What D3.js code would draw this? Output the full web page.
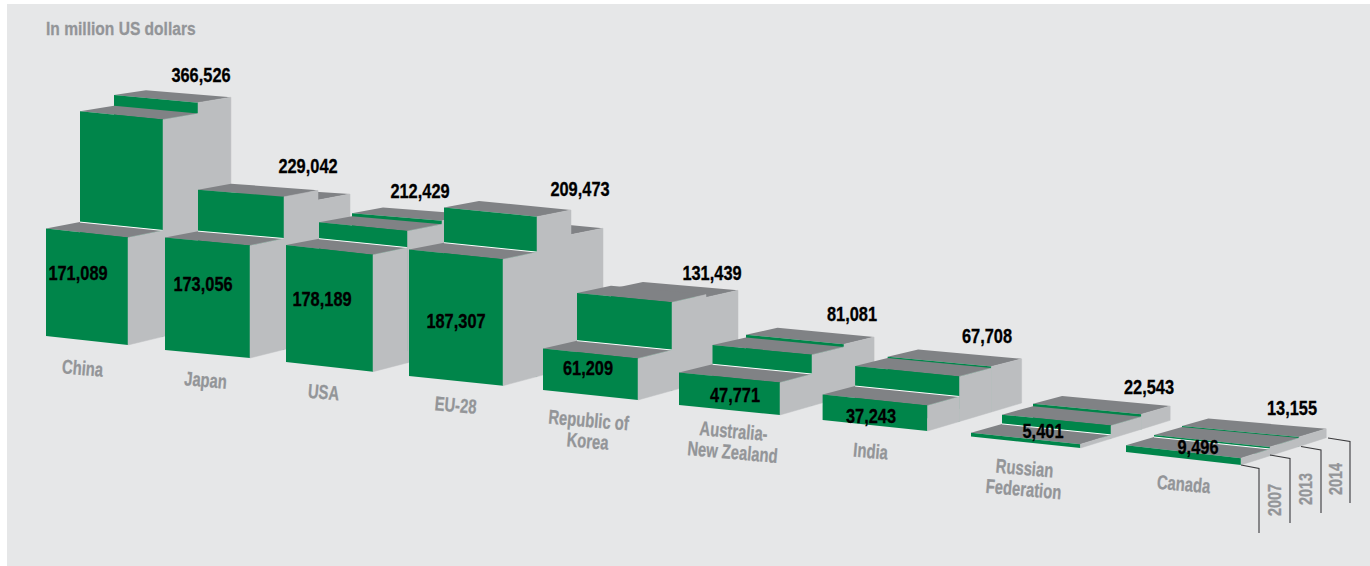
<!DOCTYPE html>
<html><head><meta charset="utf-8">
<script src="https://cdn.jsdelivr.net/npm/d3@7"></script>
<style>html,body{margin:0;padding:0;background:#fff}svg{display:block}text{font-family:"Liberation Sans",Arial,sans-serif;font-weight:700}</style>
</head><body><div id="chart"></div>
<script>
// ---------- data (million US dollars) ----------
const categories = ["China","Japan","USA","EU-28","Republic of\nKorea","Australia-\nNew Zealand","India","Russian\nFederation","Canada"];
const years = ["2007","2013","2014"];
const values2007 = [171089,173056,178189,187307,61209,47771,37243,5401,9496];
const values2013 = [354500,241000,206000,243000,133600,77000,67500,19000,12500]; // unlabelled in the source:
const values2014 = [366526,229042,212429,209473,131439,81081,67708,22543,13155];
const titleText = "In million US dollars";

// ---------- perspective layout, one stop per category ----------
const idx = d3.range(categories.length);
const stop = r => d3.scaleLinear().domain(idx).range(r);
const frontLeftX  = stop([46,165,286,409,543,679,822.6,971,1126]);
const frontRightX = stop([128,250,373,503,638,780,927.5,1080.5,1241]);
const groundLeftY = stop([336,350,362,376,390,405,420,436.5,452]);
const groundRightY= stop([345,358,371.7,385.7,400,415,431,448,465]);
const depthLeft   = stop([34,33,33,35,34,33.5,32.5,31,28]);
const depthRight  = stop([35,34,34.5,34,34,32,32,30.5,29]);
const pxPerK      = stop([.628,.65,.656,.675,.678,.68,.685,.7,.72]);
const backFactor  = stop([.98,.947,.955,.94,.94,.95,.98,.95,1]);
const labelX = stop([82,205,323,455,588,733,870,1024,1183]);
const labelY = stop([375,387,399,412,427,438,458,475,491]);
const inX = stop([78,203,322,456,588,735,871,1043,1198]);
const inY = stop([280,291,306,328,375,402,423,438,454]);
const outX = stop([201,308,420,580,712,852,987,1149,1292]);
const outY = stop([82,173,198,196,280,321,343,394,415]);
// depth rows: 0 = 2007 front, 1 = 2013, 2 = 2014, 3 = back edge of 2014
const rowDepth = d3.scaleLinear().domain([0,1,2,3]).range([0,1,2,2.94]);
const rowShrink = d3.scaleLinear().domain([0,1]).range([1,.975]);
// slope of the receding edges depends on how far down the page they are
const recede = d3.scaleLinear().domain([100,230,345,465]).range([-.165,-.2,-.24,-.32]);
const leftEase = .95;

const W=1370,H=566;
const svg=d3.select("#chart").append("svg").attr("width",W).attr("height",H);
svg.append("rect").attr("x",7).attr("y",4).attr("width",W-7).attr("height",H-4).attr("fill","#e6e7e8");

const GREEN="#00854a",TOP="#808285",SIDE="#bcbec0",LABEL="#939598";
const pts=a=>a.map(p=>p.join(",")).join(" ");

function box(i,row,v){
  const dxL=depthLeft(i),dxR=depthRight(i);
  const xL=r=>frontLeftX(i)+rowDepth(r)*dxL, xR=r=>frontRightX(i)+rowDepth(r)*dxR;
  const gL0=groundLeftY(i),gR0=groundRightY(i);
  const gL=gL0+rowDepth(row)*dxL*recede(gL0)*leftEase;
  const gR=gR0+rowDepth(row)*dxR*recede(gR0);
  const gRb=gR0+rowDepth(row+1)*dxR*recede(gR0);
  const k=pxPerK(i)*(row===2?backFactor(i):rowShrink(row));
  const h=v/1000*k;
  const tL=gL-h,tR=gR-h;
  const stepL=(rowDepth(row+1)-rowDepth(row))*dxL, stepR=(rowDepth(row+1)-rowDepth(row))*dxR;
  const bL=tL+stepL*recede(tL)*leftEase, bR=tR+stepR*recede(tR);
  return {
    side:[[xR(row),tR],[xR(row+1),bR],[xR(row+1),gRb],[xR(row),gR]],
    top:[[xL(row),tL],[xL(row+1),bL],[xR(row+1),bR],[xR(row),tR]],
    front:[[xL(row),tL],[xR(row),tR],[xR(row),gR],[xL(row),gL]],
    back:[[xL(row+1),bL],[xR(row+1),bR]]
  };
}

const rows=[values2014,values2013,values2007];
const marks=svg.append("g");
idx.forEach(i=>{
  const g=marks.append("g").attr("class","country");
  const boxes=rows.map((vals,n)=>({row:2-n,b:box(i,2-n,vals[i])}));
  boxes.forEach(({row,b})=>{
    g.append("polygon").attr("points",pts(b.top)).attr("fill",TOP);
    g.append("polygon").attr("points",pts(b.front)).attr("fill",GREEN);
    if(row===0) g.append("line").attr("x1",b.back[0][0]).attr("y1",b.back[0][1]).attr("x2",b.back[1][0]).attr("y2",b.back[1][1]).attr("stroke","#fff").attr("stroke-width",1);
  });
  // the side walls go last as one surface, so no seam shows between rows
  boxes.forEach(({b})=>{
    g.append("polygon").attr("points",pts(b.side)).attr("fill",SIDE).attr("stroke",SIDE).attr("stroke-width",.5);
  });
});

function label(x,y,str,fs,sx,fill,rot,anchor){
  return svg.append("text").attr("transform",`translate(${x},${y}) rotate(${rot||0}) scale(${sx},1)`)
    .attr("text-anchor",anchor||"middle").attr("font-size",fs).attr("fill",fill)
    .attr("stroke",fill).attr("stroke-width",.3).text(str);
}
const fmt=d3.format(",");
idx.forEach(i=>{
  label(inX(i),inY(i),fmt(values2007[i]),20,.82,"#000");
  label(outX(i),outY(i),fmt(values2014[i]),20,.82,"#000");
  categories[i].split("\n").forEach((t,n)=>{
    label(labelX(i)+n*-1,labelY(i)+n*21,t,20,.74,LABEL,5);
  });
});
label(46,35,titleText,19,.82,LABEL,0,"start");

// year key at the right
const keyX=d3.scaleLinear().domain([0,1,2,3]).range([1259,1290,1321,1350]);
const keyStart=d3.scaleLinear().domain([0,1,2,3]).range([1241,1270,1301,1328]);
const keyStartY=d3.scaleLinear().domain([0,1,2,3]).range([465,455,446.5,438]);
const keyBottom=d3.scaleLinear().domain([0,1,2,3]).range([533,523,513,503]);
const keyTextY=d3.scaleLinear().domain([0,1,2]).range([500,489,479]);
d3.range(4).forEach(n=>{
  svg.append("path").attr("d",d3.line()([[keyStart(n),keyStartY(n)],[keyX(n),keyStartY(n)+3.5],[keyX(n),keyBottom(n)]]))
    .attr("fill","none").attr("stroke","#3a3a3c").attr("stroke-width",1.1);
});
years.forEach((y,n)=>{
  label((keyX(n)+keyX(n+1))/2+6,keyTextY(n),y,19,.76,LABEL,-90);
});
</script></body></html>
